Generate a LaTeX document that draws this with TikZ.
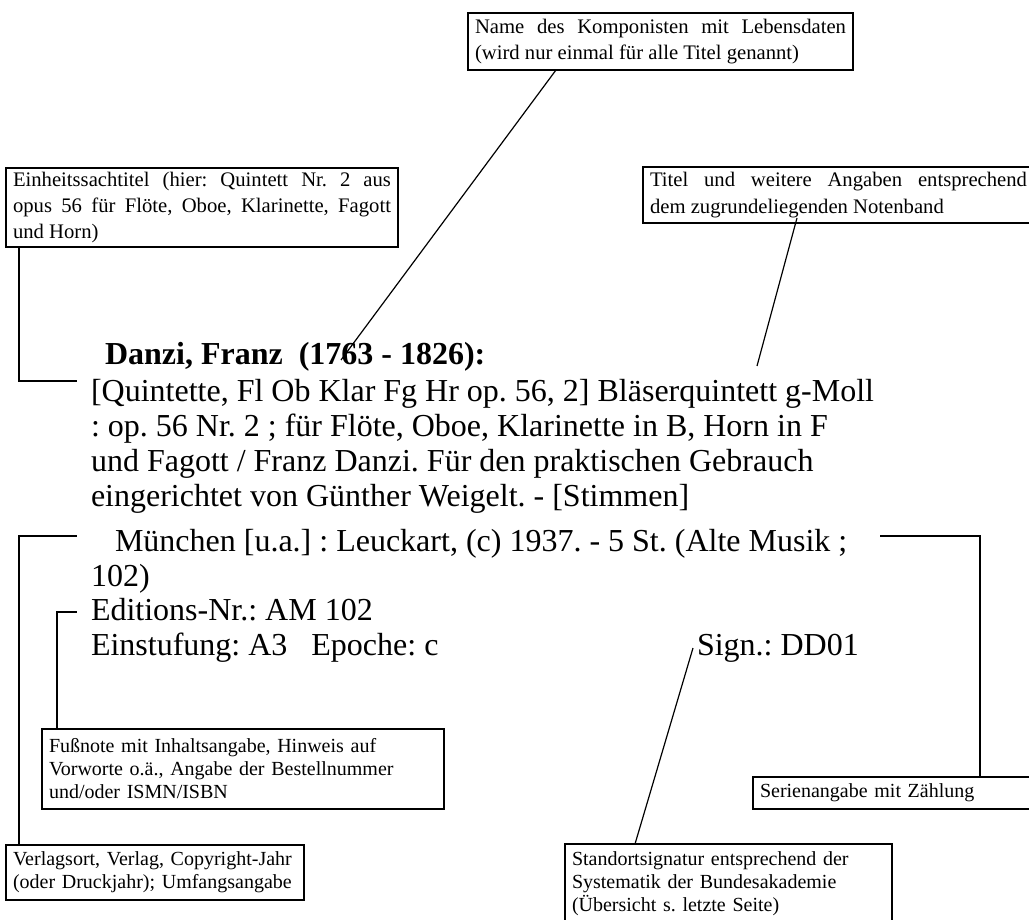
\documentclass[tikz,border=0pt]{standalone}
\usepackage{fontspec}
\setmainfont{Liberation Serif}
\frenchspacing
\begin{document}
\begin{tikzpicture}[x=0.75pt,y=-0.75pt,
  every node/.style={inner sep=0pt, outer sep=0pt},
  box/.style={draw, line width=1.4pt, anchor=north west, inner xsep=5.25pt, inner ysep=0pt,
    font=\fontsize{15}{17.25}\selectfont\frenchspacing},
  topbox/.style={box, font=\fontsize{15.5}{19.8}\selectfont\frenchspacing},
  maintext/.style={anchor=base west, font=\fontsize{24}{28}\selectfont\frenchspacing},
  link/.style={line width=0.9pt}]
\useasboundingbox (0,0) rectangle (1029,920);
\fill[white] (0,0) rectangle (1029,920);

% callout boxes
\node[topbox, text width=278.25pt, minimum height=42.75pt, align=justify] (b1) at (468,13)
  {Name des Komponisten mit Lebensdaten\linebreak (wird nur einmal für alle Titel genannt)};
\node[topbox, text width=283.5pt, minimum height=59.25pt, align=justify] (b2) at (6,168)
  {Einheitssachtitel (hier: Quintett Nr. 2 aus\linebreak opus 56 für Flöte, Oboe, Klarinette, Fagott\linebreak und Horn)};
\node[topbox, text width=282.75pt, minimum height=42pt, align=justify] (b3) at (643,167)
  {\rightskip=10.5pt Titel und weitere Angaben entsprechend\linebreak dem zugrundeliegenden Notenband};
\node[box, text width=291pt, minimum height=60pt, align=left] (bf) at (42,729)
  {Fußnote mit Inhaltsangabe, Hinweis auf\\ Vorworte o.ä., Angabe der Bestellnummer\\ und/oder ISMN/ISBN};
\node[box, text width=201pt, minimum height=24pt, align=left] (bs) at (753,777)
  {Serienangabe mit Zählung};
\node[box, text width=213pt, minimum height=41.25pt, align=left] (bv) at (6,845)
  {Verlagsort, Verlag, Copyright-Jahr\\ (oder Druckjahr); Umfangsangabe};
\node[box, text width=234.75pt, minimum height=59.25pt, align=left] (bst) at (565,844)
  {Standortsignatur entsprechend der\\ Systematik der Bundesakademie\\ (Übersicht s. letzte Seite)};

% main catalogue entry
\node[maintext, font=\fontsize{24}{28}\selectfont\bfseries] (t0) at (105,364) {Danzi, Franz\ \ (1763 - 1826):};
\node[maintext] (t1) at (91,401) {[Quintette, Fl Ob Klar Fg Hr op. 56, 2] Bläserquintett g-Moll};
\node[maintext] (t2) at (91,436) {: op. 56 Nr. 2 ; für Flöte, Oboe, Klarinette in B, Horn in F};
\node[maintext] (t3) at (91,471) {und Fagott / Franz Danzi. Für den praktischen Gebrauch};
\node[maintext] (t4) at (91,506) {eingerichtet von Günther Weigelt. - [Stimmen]};
\node[maintext] (t5) at (115,551) {München [u.a.] : Leuckart, (c) 1937. - 5 St. (Alte Musik ;};
\node[maintext] (t6) at (91,586) {102)};
\node[maintext] (t7) at (91,620) {Editions-Nr.: AM 102};
\node[maintext] (t8) at (91,655) {Einstufung: A3\ \ \ Epoche: c};
\node[maintext] (t9) at (697,655) {Sign.: DD01};

% connector end points
\coordinate (n1tip) at (341,360);
\coordinate (qtip) at (77,381);
\coordinate (ttip) at (757,366);
\coordinate (mleft) at (77,536);
\coordinate (mright) at (880,536);
\coordinate (edtip) at (77,612);
\coordinate (signtip) at (693,648);

% connectors
\draw[link] (b1.south west) ++(88,0) -- (n1tip);
\draw[link] (b2.south west) ++(13,0) |- (qtip);
\draw[link] (b3.south west) ++(154,-5) -- (ttip);
\draw[link] (bv.north west) ++(13,0) |- (mleft);
\draw[link] (bs.north west) ++(227,0) |- (mright);
\draw[link] (bf.north west) ++(15,0) |- (edtip);
\draw[link] (bst.north west) ++(70,0) -- (signtip);
\end{tikzpicture}
\end{document}
